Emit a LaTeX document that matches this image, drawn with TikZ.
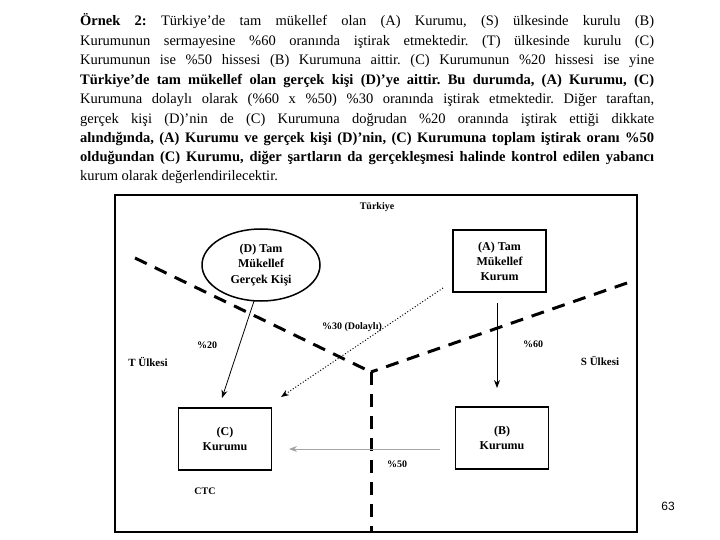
\documentclass[tikz,border=0pt]{standalone}
\usepackage{fontspec}
\setmainfont{Liberation Serif}
\newfontfamily\pagenumfont{Liberation Sans}
\usetikzlibrary{arrows.meta,shapes.geometric}
\frenchspacing
\tikzset{
  para/.style={anchor=base west, inner sep=0pt, font=\fontsize{14.5}{16}\selectfont},
  parab/.style={para, font=\fontsize{14.5}{16}\selectfont\bfseries},
  frame/.style={draw=black, line width=1.5pt},
  border/.style={draw=black, line width=3pt, dash pattern=on 13pt off 9pt},
  boxnode/.style={draw=black, line width=1.2pt, minimum width=93pt, minimum height=62pt, align=center, font=\fontsize{12}{15}\selectfont\bfseries},
  ellnode/.style={draw=black, line width=1.5pt, ellipse, minimum width=118pt, minimum height=72pt, inner sep=0pt, align=center, font=\fontsize{12}{15.5}\selectfont\bfseries},
  lbl/.style={font=\fontsize{10}{12}\selectfont\bfseries, inner sep=1pt},
  tip/.style={-{Stealth[length=8pt,width=6pt]}},
}
\newcommand{\jline}[1]{\makebox[574pt][s]{#1}}
\begin{document}
\begin{tikzpicture}[x=1pt,y=-1pt]
\useasboundingbox (0,0) rectangle (720,540);
\fill[white] (0,0) rectangle (720,540);
% paragraph
\node[para] (l1) at (80,26) {\jline{\textbf{Örnek 2:} Türkiye’de tam mükellef olan (A) Kurumu, (S) ülkesinde kurulu (B)}};
\node[para] (l2) at (80,45.5) {\jline{Kurumunun sermayesine \%60 oranında iştirak etmektedir. (T) ülkesinde kurulu (C)}};
\node[para] (l3) at (80,65) {\jline{Kurumunun ise \%50 hissesi (B) Kurumuna aittir. (C) Kurumunun \%20 hissesi ise yine}};
\node[parab] (l4) at (80,84.5) {\jline{Türkiye’de tam mükellef olan gerçek kişi (D)’ye aittir. Bu durumda, (A) Kurumu, (C)}};
\node[para] (l5) at (80,104) {\jline{Kurumuna dolaylı olarak (\%60 x \%50) \%30 oranında iştirak etmektedir. Diğer taraftan,}};
\node[para] (l6) at (80,123.5) {\jline{gerçek kişi (D)’nin de (C) Kurumuna doğrudan \%20 oranında iştirak ettiği dikkate}};
\node[parab] (l7) at (80,142.5) {\jline{alındığında, (A) Kurumu ve gerçek kişi (D)’nin, (C) Kurumuna toplam iştirak oranı \%50}};
\node[parab] (l8) at (80,162) {\jline{olduğundan (C) Kurumu, diğer şartların da gerçekleşmesi halinde kontrol edilen yabancı}};
\node[para] (l9) at (80,181) {kurum olarak değerlendirilecektir.};
% frame
\draw[frame] (115,195) rectangle (637,532);
% borders
\coordinate (bl) at (135,258);
\coordinate (apex) at (371,372);
\coordinate (br) at (627,283);
\coordinate (bb) at (371,532);
\draw[border] (bl) -- (apex);
\draw[border] (br) -- (apex);
\draw[border] (apex) -- (bb);
% nodes
\node[ellnode] (D) at (261,265) {(D) Tam\\Mükellef\\Gerçek Kişi};
\node[boxnode] (A) at (499.5,261) {(A) Tam\\Mükellef\\Kurum};
\node[boxnode] (C) at (225,439) {(C)\\Kurumu};
\node[boxnode] (B) at (502,438) {(B)\\Kurumu};
% connectors
\coordinate (dStart) at (254,301);
\coordinate (dEnd) at (222,398);
\draw[line width=0.8pt, tip] (dStart) -- (dEnd);
\coordinate (aStart) at (497,303);
\coordinate (aEnd) at (497,388);
\draw[line width=0.8pt, tip] (aStart) -- (aEnd);
\coordinate (pStart) at (443,288);
\coordinate (pEnd) at (281,397);
\draw[line width=1pt, dotted, tip] (pStart) -- (pEnd);
\coordinate (gStart) at (440,449);
\coordinate (gEnd) at (289,449);
\draw[draw=gray!70, line width=1pt, -{Stealth[length=8pt,width=6pt,fill=black!80]}] (gStart) -- (gEnd);
% labels
\node[lbl] (turkiye) at (377,207) {Türkiye};
\node[lbl] (p20) at (207,345) {\%20};
\node[lbl] (p30) at (352,327) {\%30 (Dolaylı)};
\node[lbl] (p60) at (533,344) {\%60};
\node[lbl, font=\fontsize{11}{13}\selectfont\bfseries] (tul) at (148,362) {T Ülkesi};
\node[lbl, font=\fontsize{11}{13}\selectfont\bfseries] (sul) at (600,361) {S Ülkesi};
\node[lbl] (p50) at (397,464) {\%50};
\node[lbl] (ctc) at (205,491) {CTC};
\node[font=\pagenumfont\fontsize{12}{14}\selectfont, inner sep=0pt] (pg) at (668,506) {63};
\end{tikzpicture}
\end{document}
